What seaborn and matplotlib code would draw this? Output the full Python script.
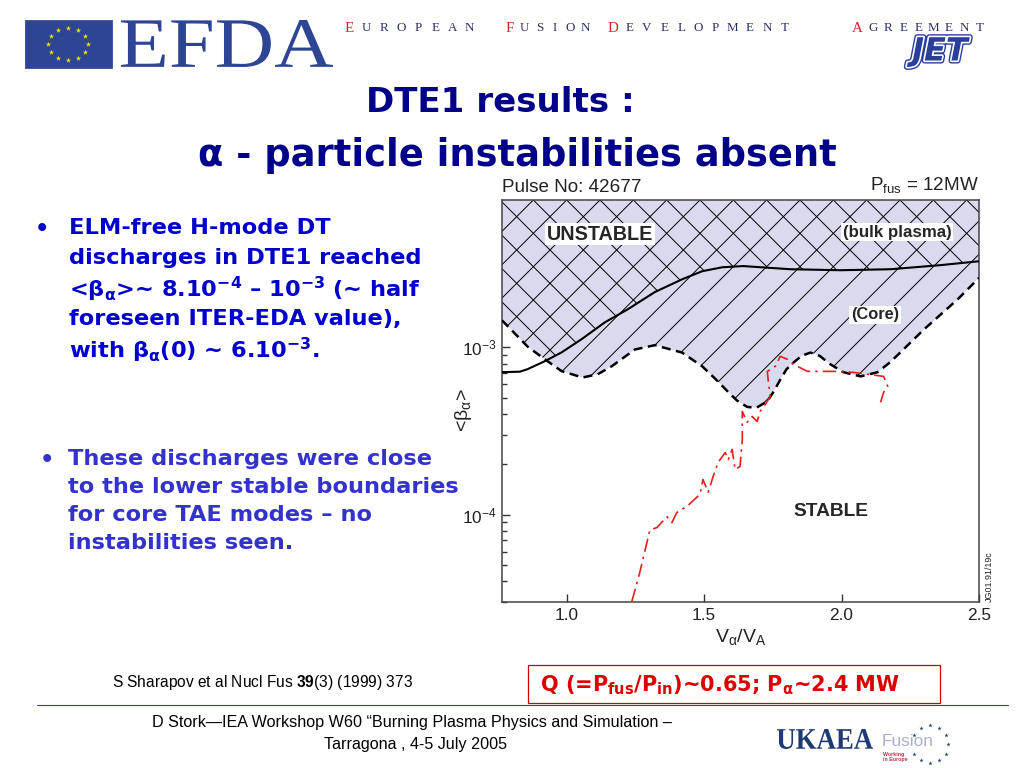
import numpy as np
import matplotlib
matplotlib.use("Agg")
import matplotlib.pyplot as plt
import matplotlib.patheffects as pe
from matplotlib.patches import Rectangle, PathPatch
from matplotlib.textpath import TextPath
from matplotlib.transforms import Affine2D
from matplotlib.font_manager import FontProperties
from matplotlib.ticker import LogLocator, NullFormatter, FormatStrFormatter
import seaborn as sns

# TAE stability boundaries: V_alpha/V_A vs <beta_alpha>
bulk_x = [0.765, 0.83, 0.858, 0.92, 0.982, 1.055, 1.139, 1.223, 1.321, 1.42, 1.493,
          1.566, 1.642, 1.814, 1.996, 2.179, 2.36, 2.50]
bulk_beta = [7.1e-4, 7.15e-4, 7.4e-4, 8.25e-4, 9.33e-4, 1.12e-3, 1.41e-3, 1.69e-3,
             2.14e-3, 2.55e-3, 2.85e-3, 3.01e-3, 3.06e-3, 2.93e-3, 2.89e-3, 2.93e-3,
             3.1e-3, 3.27e-3]

core_x = [0.765, 0.858, 0.92, 0.982, 1.058, 1.113, 1.164, 1.248, 1.321, 1.42, 1.493,
          1.54, 1.588, 1.62, 1.657, 1.69, 1.73, 1.755, 1.777, 1.80, 1.825, 1.855,
          1.887, 1.92, 1.96, 2.007, 2.069, 2.131, 2.179, 2.30, 2.423, 2.50]
core_beta = [1.45e-3, 1.01e-3, 8.5e-4, 7.2e-4, 6.6e-4, 6.9e-4, 7.7e-4, 9.7e-4, 1.03e-3,
             9.3e-4, 7.7e-4, 6.5e-4, 5.4e-4, 4.8e-4, 4.4e-4, 4.35e-4, 4.75e-4, 5.5e-4,
             6.4e-4, 7.4e-4, 8.1e-4, 8.9e-4, 9.3e-4, 8.9e-4, 7.9e-4, 7.1e-4, 6.7e-4,
             7.1e-4, 8.2e-4, 1.28e-3, 1.94e-3, 2.6e-3]

# pulse 42677 trajectory
shot_x = [1.237, 1.266, 1.303, 1.328, 1.365, 1.383, 1.401, 1.438, 1.485, 1.496, 1.515,
          1.533, 1.551, 1.577, 1.588, 1.602, 1.613, 1.631, 1.639, 1.639, 1.657, 1.675,
          1.693, 1.704, 1.723, 1.741, 1.734, 1.73, 1.759, 1.777, 1.803, 1.825, 1.876,
          1.971, 2.044, 2.153, 2.168, 2.153, 2.142]
shot_beta = [3.01e-5, 4.5e-5, 8.1e-5, 8.35e-5, 9.7e-5, 8.95e-5, 1.03e-4, 1.12e-4, 1.32e-4,
             1.62e-4, 1.36e-4, 1.69e-4, 2.05e-4, 2.35e-4, 2.13e-4, 2.45e-4, 1.86e-4,
             1.94e-4, 2.81e-4, 4.14e-4, 3.56e-4, 3.86e-4, 3.6e-4, 4.14e-4, 4.56e-4,
             5.09e-4, 6.17e-4, 7.18e-4, 7.69e-4, 8.83e-4, 8.48e-4, 7.91e-4, 7.18e-4,
             7.18e-4, 7.08e-4, 6.7e-4, 5.84e-4, 5.37e-4, 4.69e-4]

x_ticks = [1.0, 1.5, 2.0, 2.5]
y_top = 7.6e-3
y_bottom = 3.0e-5

sns.set_style("ticks")
plt.rcParams["font.family"] = ["Liberation Sans", "DejaVu Sans"]
plt.rcParams["mathtext.fontset"] = "custom"
plt.rcParams["mathtext.bf"] = "Liberation Sans:bold"
plt.rcParams["mathtext.rm"] = "Liberation Sans"
plt.rcParams["hatch.linewidth"] = 0.35
plt.rcParams["hatch.color"] = "black"

fig = plt.figure(figsize=(5.12, 3.84), dpi=200)
fig.patch.set_facecolor("white")

# slide decoration, drawn in pixel coordinates
deco = fig.add_axes([0, 0, 1, 1], zorder=0)
deco.set_xlim(0, 1024)
deco.set_ylim(768, 0)
deco.axis("off")


def boxed_word(s, x0, x1, y0, y1, prop, color):
    # word stretched into a pixel box (logo lettering)
    tp = TextPath((0, 0), s, size=100, prop=prop)
    bb = tp.get_extents()
    tr = (Affine2D().translate(-bb.x0, -bb.y0)
          .scale((x1 - x0) / bb.width, -(y1 - y0) / bb.height).translate(x0, y1))
    deco.add_patch(PathPatch(tr.transform_path(tp), facecolor=color, lw=0))


navy = "#2e4595"
deco.add_patch(Rectangle((26, 21), 85, 46, color=navy))
ang = np.deg2rad(np.arange(0, 360, 30))
deco.scatter(68 + 20 * np.cos(ang), 44 + 16 * np.sin(ang), marker="*", s=4,
             color="#f2e200", linewidths=0)
boxed_word("EFDA", 121, 333, 20, 67, FontProperties(family="Liberation Serif"), navy)

words = [("EUROPEAN", 341, 478), ("FUSION", 502, 593),
         ("DEVELOPMENT", 604, 793), ("AGREEMENT", 850, 987)]
for word, x0, x1 in words:
    step = (x1 - x0) / len(word)
    for i, ch in enumerate(word):
        deco.text(x0 + (i + 0.5) * step, 28, ch, family="Liberation Serif",
                  fontsize=5.4 if i == 0 else 4.7,
                  color="#d8202a" if i == 0 else "#2a2f6a", ha="center", va="center")

deco.text(940, 52, "JET", family="DejaVu Sans", fontweight="bold", style="italic",
          fontsize=11.5, color="#2a3f99", ha="center", va="center",
          path_effects=[pe.Stroke(linewidth=2.2, foreground="#2a3f99"),
                        pe.Stroke(linewidth=1.2, foreground="white"), pe.Normal()])

title_kw = dict(family="DejaVu Sans", fontweight="bold", color="#000088",
                ha="center", va="center")
deco.text(500, 103, "DTE1 results :", fontsize=12.3, **title_kw)
deco.text(517, 155, "α - particle instabilities absent", fontsize=13.3, **title_kw)

body = dict(family="DejaVu Sans", fontweight="bold", fontsize=8.1, va="center", ha="left")
deco.text(35, 229, "•", color="#0000cc", **body)
lines1 = ["ELM-free H-mode DT",
          "discharges in DTE1 reached",
          "<β$_{\\mathregular{α}}$>~ 8.10$^{\\mathregular{-4}}$ – 10$^{\\mathregular{-3}}$ (~ half",
          "foreseen ITER-EDA value),",
          "with β$_{\\mathregular{α}}$(0) ~ 6.10$^{\\mathregular{-3}}$."]
for i, t in enumerate(lines1):
    deco.text(69, 228 + 30.5 * i, t, color="#0000cc", **body)

deco.text(40, 460, "•", color="#3333cc", **body)
lines2 = ["These discharges were close",
          "to the lower stable boundaries",
          "for core TAE modes – no",
          "instabilities seen."]
for i, t in enumerate(lines2):
    deco.text(68, 459 + 28 * i, t, color="#3333cc", **body)

deco.text(112, 682, "S Sharapov et al Nucl Fus $\\mathbf{39}$(3) (1999) 373",
          family="Liberation Sans", fontsize=5.6, color="black", va="center")

deco.add_patch(Rectangle((528, 665), 412, 38, facecolor="white", edgecolor="#cc0000",
                         linewidth=0.45))
deco.text(540, 685, "Q (=P$_{\\mathregular{fus}}$/P$_{\\mathregular{in}}$)~0.65; "
          "P$_{\\mathregular{α}}$~2.4 MW", family="DejaVu Sans", fontweight="bold",
          fontsize=7.5, color="#dd0000", va="center")

deco.plot([37, 1008], [705, 705], color="#3a3aa0", lw=0.4)

foot = dict(family="Liberation Sans", fontsize=5.8, color="black", ha="center", va="center")
deco.text(412, 723, "D Stork—IEA Workshop W60 “Burning Plasma Physics and Simulation –", **foot)
deco.text(415, 745, "Tarragona , 4-5 July 2005", **foot)

boxed_word("UKAEA", 777, 873, 729, 749,
           FontProperties(family="Liberation Serif", weight="bold"), "#1f3a73")
deco.text(908, 741, "Fusion", family="Liberation Sans", fontsize=6.2, color="#a9b0cf",
          ha="center", va="center")
deco.text(883, 757, "Working\nin Europe", family="Liberation Sans", fontsize=1.9,
          fontweight="bold", color="#c0304a", ha="left", va="center", linespacing=1.1)
sang = np.deg2rad([90, 60, 30, 0, -30, -60, -90, -120, -150, 150, 120])
deco.scatter(930 + 18 * np.cos(sang), 744 - 19 * np.sin(sang), marker="*", s=2.5,
             color="#1f3a73", linewidths=0)

# chart
ax = fig.add_axes([502 / 1024, 1 - 602 / 768, 477 / 1024, 402 / 768], zorder=1)
ax.set_yscale("log")
ax.set_facecolor("white")

core = ax.fill_between(core_x, core_beta, y_top, facecolor="#dadaee", edgecolor="none",
                       zorder=1)
ax.fill_between(core_x, core_beta, y_top, facecolor="none", edgecolor="black", hatch="//",
                linewidth=0, zorder=2)
bulk = ax.fill_between(bulk_x, bulk_beta, y_top, facecolor="none", edgecolor="black",
                       hatch="\\\\", linewidth=0, zorder=2)
bulk.set_clip_path(core.get_paths()[0], ax.transData)

sns.lineplot(x=bulk_x, y=bulk_beta, ax=ax, color="black", lw=0.75, sort=False,
             estimator=None, zorder=3)
sns.lineplot(x=core_x, y=core_beta, ax=ax, color="black", lw=0.9, sort=False,
             estimator=None, linestyle=(0, (3.6, 2.2)), zorder=3)
sns.lineplot(x=shot_x, y=shot_beta, ax=ax, color="#e3201b", lw=0.6, sort=False,
             estimator=None, linestyle=(0, (8, 3, 1.5, 3)), zorder=3)

ax.set_xlim(0.765, 2.5)
ax.set_ylim(y_bottom, y_top)
ax.set_xticks(x_ticks)
ax.xaxis.set_major_formatter(FormatStrFormatter("%.1f"))
ax.yaxis.set_major_locator(LogLocator(base=10))
ax.yaxis.set_minor_locator(LogLocator(base=10, subs=np.arange(2, 10)))
ax.yaxis.set_minor_formatter(NullFormatter())
ax.tick_params(which="both", direction="in", top=False, right=False, labelsize=6.2,
               width=0.5, color="#333333", labelcolor="#222222", pad=2)
ax.tick_params(which="major", length=3)
ax.tick_params(which="minor", length=1.8)
for s in ax.spines.values():
    s.set_linewidth(0.55)
    s.set_color("#444444")

ax.set_xlabel("V$_{\\mathregular{α}}$/V$_{\\mathregular{A}}$", fontsize=7, labelpad=2,
              color="#222222")
ax.set_ylabel("<β$_{\\mathregular{α}}$>", fontsize=7, color="#222222")
ax.yaxis.set_label_coords(-0.058, 0.478)

box = dict(facecolor="white", edgecolor="none", pad=0.6)
ax.text(0.205, 0.915, "UNSTABLE", transform=ax.transAxes, fontsize=7.1, fontweight="bold",
        ha="center", va="center", bbox=box, zorder=4)
ax.text(0.828, 0.920, "(bulk plasma)", transform=ax.transAxes, fontsize=6.1,
        fontweight="bold", ha="center", va="center", bbox=box, zorder=4)
ax.text(0.782, 0.714, "(Core)", transform=ax.transAxes, fontsize=5.9, fontweight="bold",
        ha="center", va="center", bbox=box, zorder=4)
ax.text(0.690, 0.224, "STABLE", transform=ax.transAxes, fontsize=6.9, fontweight="bold",
        ha="center", va="center", zorder=4)
ax.text(0.0, 1.032, "Pulse No: 42677", transform=ax.transAxes, fontsize=6.8,
        color="#222222", ha="left", va="center")
ax.text(1.0, 1.035, "P$_{\\mathregular{fus}}$ = 12MW", transform=ax.transAxes, fontsize=6.8,
        color="#222222", ha="right", va="center")
ax.text(1.012, 0.0, "JG01.91/19c", transform=ax.transAxes, fontsize=3.2, rotation=90,
        color="#222222", ha="left", va="bottom")

fig.savefig("out.png", dpi=200, facecolor="white")
